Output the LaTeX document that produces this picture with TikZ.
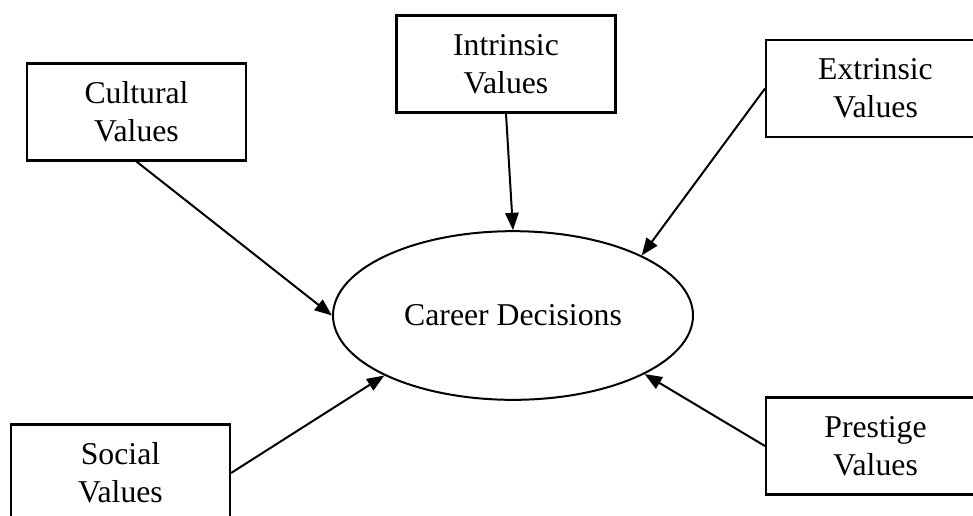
\documentclass[tikz,border=0pt]{standalone}
\usepackage{fontspec}
\setmainfont{Liberation Serif}
\usetikzlibrary{arrows.meta,shapes.geometric}
\begin{document}
\begin{tikzpicture}[x=0.75pt,y=-0.75pt,
  valuebox/.style={draw, line width=1.8pt, rectangle, inner sep=0pt,
    minimum width=164pt, minimum height=72.5pt, align=center,
    font=\fontsize{23.8}{28.5}\selectfont},
  centre/.style={draw, line width=1.5pt, ellipse, inner sep=0pt,
    minimum width=270pt, minimum height=126.5pt,
    font=\fontsize{23.8}{28.5}\selectfont},
  link/.style={line width=1.5pt, -{Triangle[length=13pt,width=10pt]}}]
  \useasboundingbox (0,0) rectangle (973,515);
  \clip (0,0) rectangle (973,515);

  % central outcome
  \node[centre] (cd) at (513,315.5) {Career Decisions};

  % value sources
  \node[valuebox] (cult)  at (136.5,112)  {Cultural\\Values};
  \node[valuebox] (intr)  at (506,64)     {Intrinsic\\Values};
  \node[valuebox] (extr)  at (875.5,88.5) {Extrinsic\\Values};
  \node[valuebox] (soc)   at (120.5,473)  {Social\\Values};
  \node[valuebox] (prest) at (875.5,446)  {Prestige\\Values};

  % influences on the decision
  \draw[link] (cult.south) -- (cd.west);
  \draw[link] (intr.south) -- (cd.north);
  \draw[link] (extr.west)  -- (cd.25);
  \draw[link] (soc.east)   -- (cd.205);
  \draw[link] (prest.west) -- (cd.336);
\end{tikzpicture}
\end{document}
